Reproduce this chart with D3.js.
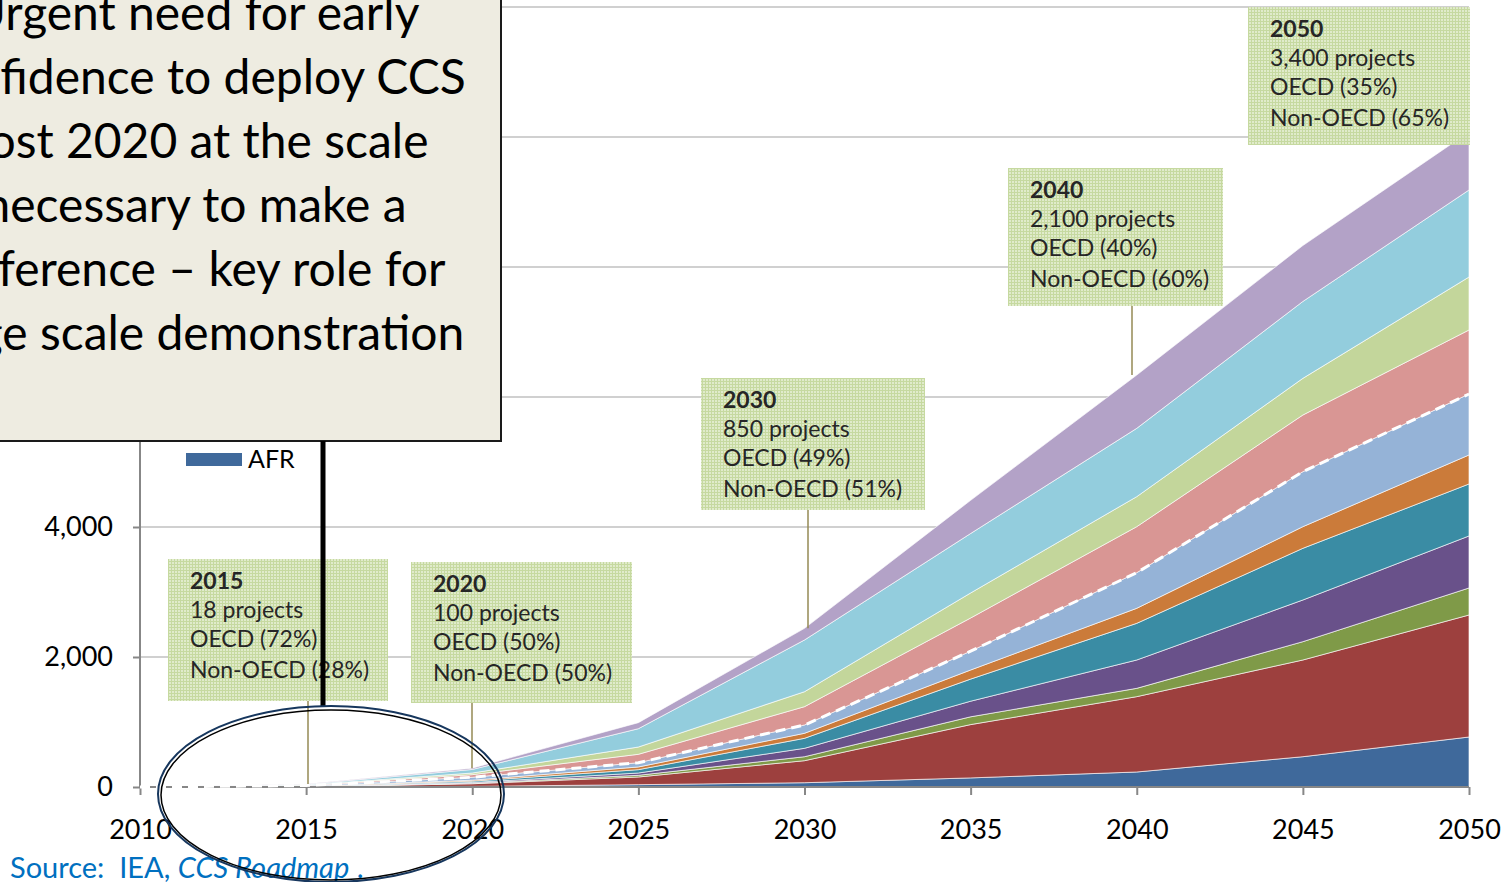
<!DOCTYPE html>
<html>
<head>
<meta charset="utf-8">
<script src="https://cdn.jsdelivr.net/npm/d3@7/dist/d3.min.js"></script>
<style>
  html, body { margin: 0; padding: 0; background: #fff; overflow: hidden; }
  svg { display: block; }
</style>
</head>
<body>
<svg id="chart" width="1511" height="882"></svg>
<script>
// years on the x axis
var years = [2010, 2015, 2020, 2025, 2030, 2035, 2040, 2045, 2050];

// stacked series, bottom to top (Mt CO2 captured)
var afr = [0, 0, 10, 36, 66, 140, 231, 466, 769];
var chi = [0, 3, 40, 118, 339, 820, 1159, 1488, 1877];
var csa = [0, 1, 8, 26, 61, 120, 128, 282, 416];
var eeu = [0, 2, 12, 35, 129, 240, 436, 641, 800];
var ind = [0, 3, 20, 52, 154, 340, 564, 795, 800];
var mea = [0, 3, 15, 41, 77, 140, 231, 333, 446];
var oda = [0, 10, 45, 66, 128, 290, 548, 846, 938];
var oeu = [0, 6, 40, 129, 282, 510, 708, 872, 985];
var opa = [0, 4, 25, 112, 230, 385, 462, 564, 815];
var ona = [0, 8, 55, 282, 796, 915, 1051, 1183, 1339];
var oth = [0, 5, 20, 93, 179, 510, 820, 860, 892];

var seriesNames = ["AFR", "CHI", "CSA", "EEU", "IND", "MEA", "ODA", "OEU", "OPA", "ONA", "OTH"];
var seriesValues = [afr, chi, csa, eeu, ind, mea, oda, oeu, opa, ona, oth];
var seriesColors = ["#3f699b", "#9d403e", "#7f9a48", "#69518a", "#3a8ca4", "#cb7b3a",
                    "#95b3d7", "#d99694", "#c3d69b", "#93cddd", "#b3a2c7"];
// the OECD / non-OECD split sits on top of this series
var splitSeries = "ODA";

var yTicks = [0, 2000, 4000, 6000, 8000, 10000, 12000];

// callouts
var noteYears = [2015, 2020, 2030, 2040, 2050];
var noteProjects = ["18 projects", "100 projects", "850 projects", "2,100 projects", "3,400 projects"];
var noteOecd = ["OECD (72%)", "OECD (50%)", "OECD (49%)", "OECD (40%)", "OECD (35%)"];
var noteNonOecd = ["Non-OECD (28%)", "Non-OECD (50%)", "Non-OECD (51%)", "Non-OECD (60%)", "Non-OECD (65%)"];

var message = ["Urgent need for early", "confidence to deploy CCS", "post 2020 at the scale",
               "necessary to make a", "difference \u2013 key role for", "large scale demonstration"];

var svg = d3.select("#chart");

var x = d3.scaleLinear().domain([2010, 2050]).range([140, 1469]);
var y = d3.scaleLinear().domain([0, 12000]).range([787, 7]);

// message box geometry (it hides the upper part of the chart)
var msgBox = { x: -20, y: -20, w: 521, h: 461 };

// pattern for the callout boxes
var defs = svg.append("defs");
var pat = defs.append("pattern")
    .attr("id", "hatch")
    .attr("width", 3).attr("height", 3)
    .attr("patternUnits", "userSpaceOnUse");
pat.append("rect").attr("width", 3).attr("height", 3).attr("fill", "#dde9c6").attr("fill-opacity", 0.9);
pat.append("path").attr("d", "M0,0.5H3M0.5,0V3").attr("stroke", "#c6d9a0").attr("stroke-width", 1);

// gridlines
svg.append("g")
   .selectAll("line")
   .data(yTicks.slice(1))
   .enter().append("line")
   .attr("x1", x(2010)).attr("x2", x(2050))
   .attr("y1", function(d) { return y(d); })
   .attr("y2", function(d) { return y(d); })
   .attr("stroke", "#c0c0c0")
   .attr("stroke-width", 1.5);

// stacked areas
var table = years.map(function(yr, i) {
    var row = { year: yr };
    seriesNames.forEach(function(n, k) { row[n] = seriesValues[k][i]; });
    return row;
});

var stack = d3.stack().keys(seriesNames);
var layers = stack(table);

var area = d3.area()
    .x(function(d) { return x(d.data.year); })
    .y0(function(d) { return y(d[0]); })
    .y1(function(d) { return y(d[1]); });

svg.append("g")
   .selectAll("path")
   .data(layers)
   .enter().append("path")
   .attr("d", area)
   .attr("fill", function(d, i) { return seriesColors[i]; })
   .attr("stroke", "#ffffff")
   .attr("stroke-width", 0.8)
   .attr("stroke-opacity", 0.8);

// axes
var xAxis = svg.append("g")
    .attr("transform", "translate(0," + y(0) + ")")
    .call(d3.axisBottom(x).tickValues(years).tickFormat(d3.format("d")).tickSize(8).tickPadding(25));

var yAxis = svg.append("g")
    .attr("transform", "translate(" + x(2010) + ",0)")
    .call(d3.axisLeft(y).tickValues(yTicks).tickFormat(d3.format(",")).tickSize(7).tickPadding(20));

[xAxis, yAxis].forEach(function(ax) {
    ax.selectAll("path, line").attr("stroke", "#878787").attr("stroke-width", 2);
    ax.selectAll("text")
      .attr("fill", "#000")
      .style("font-family", "Lato, 'Open Sans', sans-serif")
      .style("font-size", "27px");
});
xAxis.select(".domain").attr("d", "M" + x(2010) + ",0H" + x(2050));
yAxis.select(".domain").attr("d", "M0," + y(12000) + "V" + y(0));
// labels that sit under the message box are not seen
yAxis.selectAll(".tick text")
     .filter(function(d) { return y(d) < msgBox.y + msgBox.h; })
     .remove();

// OECD split, dashed white line
var splitLayer = layers[seriesNames.indexOf(splitSeries)];
svg.append("path")
   .datum(splitLayer)
   .attr("d", d3.line()
       .x(function(d) { return x(d.data.year); })
       .y(function(d) { return y(d[1]); }))
   .attr("fill", "none")
   .attr("stroke", "#ffffff")
   .attr("stroke-width", 3)
   .attr("stroke-dasharray", "10,6");

// callouts
var topLayer = layers[layers.length - 1];
var boxes = [
    { x: 168, y: 559, w: 220, h: 142, lead: 308 },
    { x: 411, y: 562, w: 221, h: 141, lead: 472 },
    { x: 701, y: 378, w: 224, h: 132, lead: 808 },
    { x: 1008, y: 168, w: 215, h: 138, lead: 1132 },
    { x: 1248, y: 7, w: 222, h: 138, lead: null }
];
var lineOffsets = [30, 59, 88, 119];

noteYears.forEach(function(yr, i) {
    var b = boxes[i];
    var idx = years.indexOf(yr);
    if (b.lead !== null) {
        svg.append("line")
           .attr("x1", b.lead).attr("x2", b.lead)
           .attr("y1", b.y + b.h)
           .attr("y2", y(topLayer[idx][1]))
           .attr("stroke", "#948a54")
           .attr("stroke-width", 1.5);
    }
    var g = svg.append("g");
    g.append("rect")
     .attr("x", b.x).attr("y", b.y)
     .attr("width", b.w).attr("height", b.h)
     .attr("fill", "url(#hatch)");
    var lines = [String(yr), noteProjects[i], noteOecd[i], noteNonOecd[i]];
    g.selectAll("text")
     .data(lines)
     .enter().append("text")
     .attr("x", b.x + 22)
     .attr("y", function(d, k) { return b.y + lineOffsets[k]; })
     .attr("fill", "#262626")
     .style("font-family", "Lato, 'Open Sans', sans-serif")
     .style("font-size", "23px")
     .style("font-weight", function(d, k) { return k === 0 ? "bold" : "normal"; })
     .text(function(d) { return d; });
});

// legend (only the bottom entry is left uncovered)
var legend = svg.append("g").attr("transform", "translate(186,453)");
legend.append("rect").attr("width", 56).attr("height", 13).attr("fill", seriesColors[0]);
legend.append("text")
      .attr("x", 62).attr("y", 15)
      .style("font-family", "Lato, 'Open Sans', sans-serif")
      .style("font-size", "25px")
      .text(seriesNames[0]);

// message box
svg.append("rect")
   .attr("x", msgBox.x).attr("y", msgBox.y)
   .attr("width", msgBox.w).attr("height", msgBox.h)
   .attr("fill", "#eeece1")
   .attr("stroke", "#1a1a1a")
   .attr("stroke-width", 2);

svg.append("g")
   .selectAll("text")
   .data(message)
   .enter().append("text")
   .attr("x", 195)
   .attr("y", function(d, i) { return 30 + i * 64; })
   .attr("text-anchor", "middle")
   .style("font-family", "Lato, 'Open Sans', sans-serif")
   .style("font-size", "48px")
   .attr("fill", "#000")
   .text(function(d) { return d; });

// pointer from the box to the circled early years
svg.append("line")
   .attr("x1", 323).attr("x2", 323)
   .attr("y1", msgBox.y + msgBox.h).attr("y2", 707)
   .attr("stroke", "#000")
   .attr("stroke-width", 5);

// source
var src = svg.append("text")
    .attr("x", 10).attr("y", 878)
    .attr("fill", "#0070c0")
    .style("font-family", "Lato, 'Open Sans', sans-serif")
    .style("font-size", "29px");
src.append("tspan").attr("xml:space", "preserve").text("Source:  IEA, ");
src.append("tspan").style("font-style", "italic").text("CCS Roadmap");
src.append("tspan").attr("xml:space", "preserve").text(" .");

// circle round the early years
svg.append("ellipse")
   .attr("cx", 331).attr("cy", 794)
   .attr("rx", 173).attr("ry", 88)
   .attr("fill", "none")
   .attr("stroke", "#17375e")
   .attr("stroke-width", 2);
svg.append("ellipse")
   .attr("cx", 331).attr("cy", 795)
   .attr("rx", 170).attr("ry", 85)
   .attr("fill", "none")
   .attr("stroke", "#000")
   .attr("stroke-width", 1.5);
</script>
</body>
</html>
